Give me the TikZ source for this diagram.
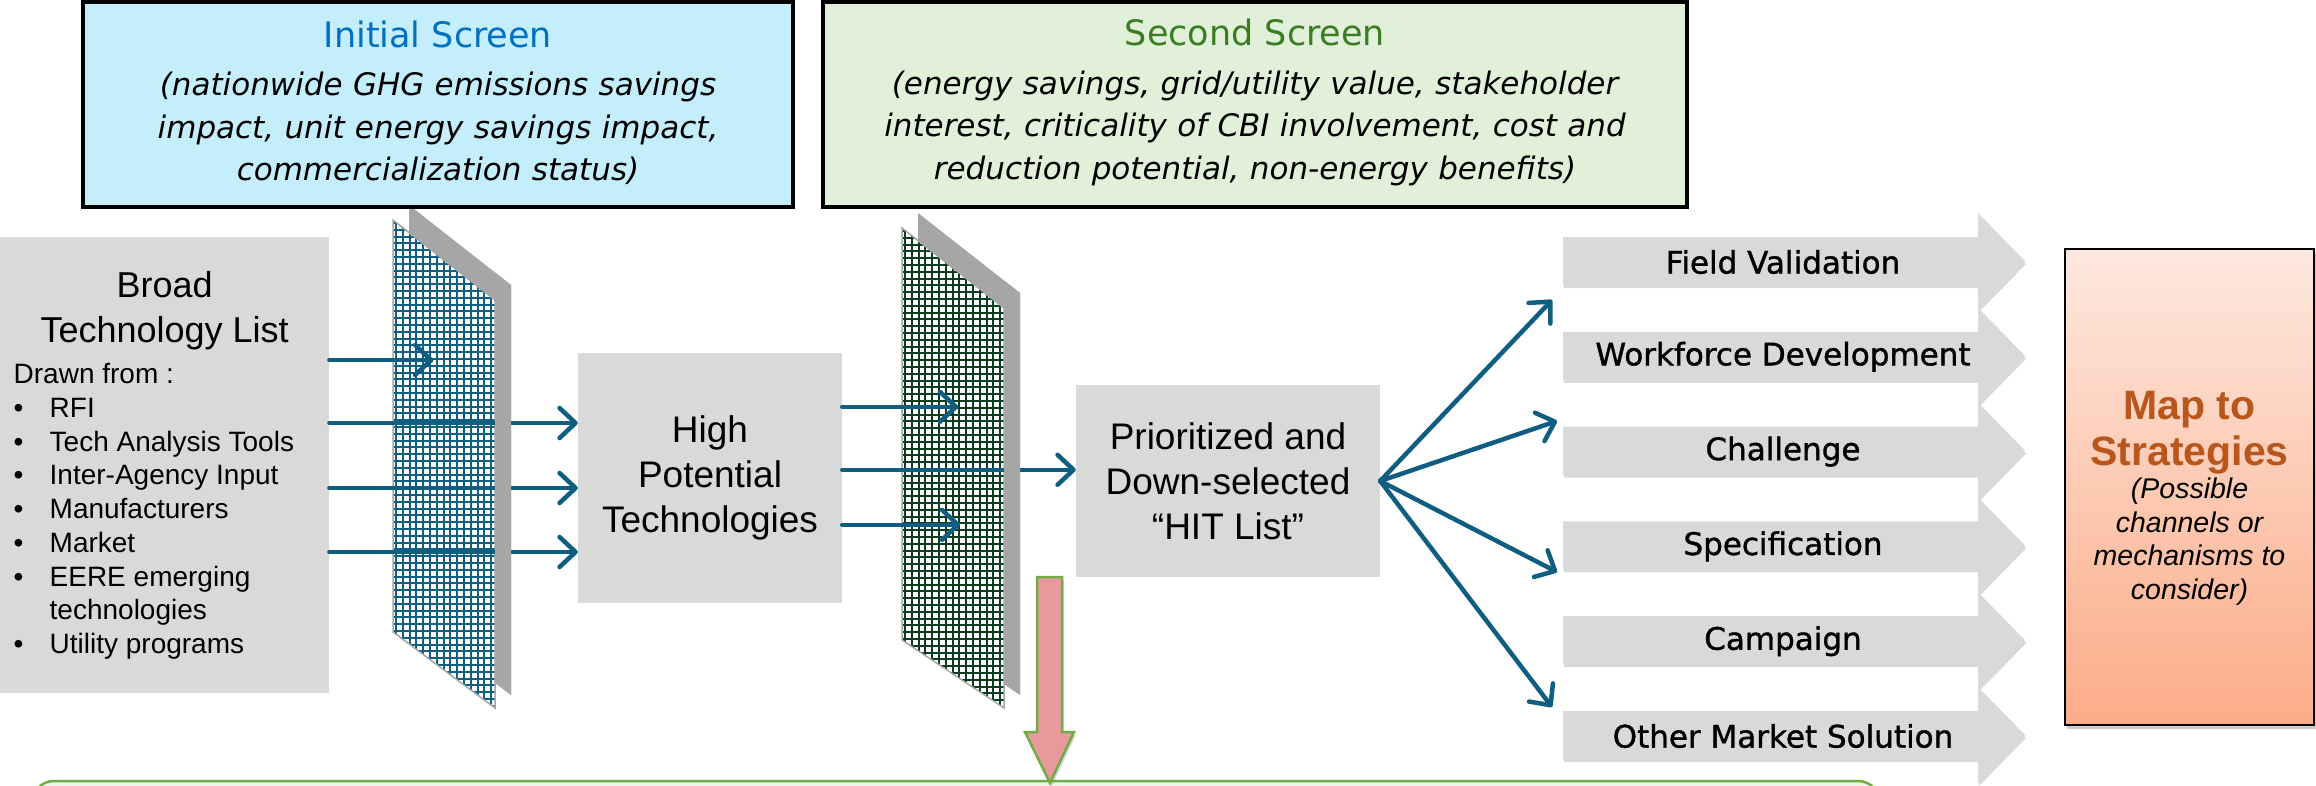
\documentclass[tikz,border=0pt]{standalone}
\usepackage{fontspec}
\setmainfont{Liberation Sans}
\newfontfamily\vera{DejaVu Sans}
\newfontfamily\veramid[FakeBold=1.2]{DejaVu Sans}
\usetikzlibrary{arrows.meta,positioning,shadows,calc}
\definecolor{flow}{HTML}{0F5E82}
\definecolor{meshblue}{HTML}{0E5F84}
\definecolor{meshgreen}{HTML}{0B3D1E}
\definecolor{panel}{HTML}{A6A6A6}
\definecolor{boxgray}{HTML}{D9D9D9}
\definecolor{firstfill}{HTML}{C4EEFC}
\definecolor{secondfill}{HTML}{E1F0D8}
\definecolor{firsttitle}{HTML}{0070C0}
\definecolor{secondtitle}{HTML}{3B7D23}
\definecolor{maptop}{HTML}{FDE8DF}
\definecolor{mapbot}{HTML}{FCAC88}
\definecolor{maptext}{HTML}{B8561B}
\definecolor{pinkfill}{HTML}{E8999B}
\definecolor{leaf}{HTML}{70AD47}
\definecolor{leafpale}{HTML}{EEF6E8}
\newcommand{\fsz}[2]{\fontsize{#1}{#2}\selectfont\spaceskip=\fontdimen2\font\relax}
\newcommand{\bul}{\makebox[36pt][l]{\textbullet}}

\begin{document}
\begin{tikzpicture}[x=1pt,y=-1pt,
screen/.style={draw=black,line width=4pt,minimum height=205pt,align=center,inner sep=0pt,
font=\vera\itshape\fsz{31}{42.5}},
gray box/.style={fill=boxgray,inner sep=0pt,align=center,font=\fsz{37}{45}},
arr/.style={draw=flow,line width=4.5pt,-{Straight Barb[length=16pt,width=30pt,round]},line cap=round},
chev/.style={fill=boxgray,drop shadow={shadow xshift=1pt,shadow yshift=-3pt,opacity=.3}},
chevtext/.style={font=\veramid\fsz{31}{38},inner sep=0pt}]
\useasboundingbox (0,0) rectangle (2316,785);

% bottom bar, cut by the page
\draw[leaf,fill=leafpale,line width=2.5pt,rounded corners=22pt] (32,781) rectangle (1880,880);

% the two screens
\foreach \mx/\my/\mc in {393/220/meshblue,902/228/meshgreen}{
  \fill[panel] (\mx+16,\my-15) -- (\mx+118,\my+65) -- (\mx+118,695) -- (\mx+16,\my+397) -- cycle;
  \begin{scope}
    \clip (\mx,\my) -- (\mx+102,\my+80) -- (\mx+102,708) -- (\mx,\my+412) -- cycle;
    \fill[white] (\mx,\my) rectangle (\mx+102,708);
    \foreach \k in {0,...,15} \draw[\mc,line width=2pt] (\mx+3+\k*6.8,\my) -- (\mx+3+\k*6.8,708);
    \foreach \k in {0,...,72} \draw[\mc,line width=2pt] (\mx,\my+3+\k*6.8) -- (\mx+102,\my+3+\k*6.8);
  \end{scope}
  \draw[panel,line width=1.5pt] (\mx,\my) -- (\mx+102,\my+80) -- (\mx+102,708) -- (\mx,\my+412) -- cycle;
}

\node[gray box,anchor=north west,minimum width=329pt,minimum height=456pt,text width=308pt,align=left] (broad) at (0,237)
{\parindent=0pt{\centering\fsz{36}{45}Broad\\Technology List\par}\vspace{8pt}
\leftskip=3pt\fsz{28}{33.7}Drawn from :\par
\bul RFI\par
\bul Tech Analysis Tools\par
\bul Inter-Agency Input\par
\bul Manufacturers\par
\bul Market\par
\bul EERE emerging\par
\hspace*{36pt}technologies\par
\bul Utility programs\par};
\node[gray box,minimum width=264pt,minimum height=250pt] (high) at (710,478) {High\\Potential\\Technologies};
\node[gray box,minimum width=304pt,minimum height=192pt] (hit) at (1228,481) {Prioritized and\\Down-selected\\“HIT List”};

\node[screen,fill=firstfill,minimum width=710pt,text width=700pt] (first) at (438,104.5)
{{\upshape\color{firsttitle}\fsz{35}{42.5}Initial Screen\par}\vspace{6pt}
(nationwide GHG emissions savings\\impact, unit energy savings impact,\\commercialization status)\vspace*{4pt}};
\node[screen,fill=secondfill,minimum width=864pt,text width=854pt] (second) at (1255,104.5)
{{\upshape\color{secondtitle}\fsz{35}{42.5}Second Screen\par}\vspace{6pt}
(energy savings, grid/utility value, stakeholder\\interest, criticality of CBI involvement, cost and\\reduction potential, non-energy benefits)\vspace*{4pt}};

% arrows through the screens
\path (broad.north east) ++(0,123) coordinate (b1) ++(0,63) coordinate (b2) ++(0,65) coordinate (b3) ++(0,64) coordinate (b4);
\path (high.north east) ++(0,54) coordinate (h1) ++(0,63) coordinate (h2) ++(0,55) coordinate (h3);
\draw[arr] (b1) -- ++(104,0);
\foreach \b in {b2,b3,b4} \draw[arr] (\b) -- (\b -| high.west);
\draw[arr] (h1) -- ++(116,0);
\draw[arr] (h2) -- (h2 -| hit.west);
\draw[arr] (h3) -- ++(118,0);
\foreach \mx/\my in {393/220,902/228}{
  \begin{scope}
    \clip (\mx+102,0) rectangle (\mx+130,785);
    \fill[panel] (\mx+16,\my-15) -- (\mx+118,\my+65) -- (\mx+118,695) -- (\mx+16,\my+397) -- cycle;
  \end{scope}
}

% channels
\foreach \nm/\yy/\txt in {fv/261/Field Validation,wd/355.8/Workforce Development,ch/450.6/Challenge,
sp/545.4/Specification,ca/640.2/Campaign,om/735/Other Market Solution}{
  \fill[chev] (1563,\yy-24) -- (1978,\yy-24) -- (1978,\yy-48) -- (2025,\yy) -- (1978,\yy+48) -- (1978,\yy+24) -- (1563,\yy+24) -- cycle;
  \coordinate (\nm-w) at (1563,\yy);
  \node[chevtext] (\nm) at (1783,\yy+1) {\txt};
}
\draw[arr] (hit.east) -- ($(fv-w)+(-11,39)$);
\draw[arr] (hit.east) -- ($(ch-w)+(-6,-29.6)$);
\draw[arr] (hit.east) -- ($(sp-w)+(-6,26.6)$);
\draw[arr] (hit.east) -- ($(om-w)+(-11,-28)$);

\node[draw=black,line width=2.5pt,top color=maptop,bottom color=mapbot,minimum width=249pt,minimum height=476pt,
text width=244pt,align=center,inner sep=0pt,drop shadow={shadow xshift=2pt,shadow yshift=-4pt,opacity=.4}] (map) at (2189.5,487)
{{\bfseries\color{maptext}\fsz{41}{46}\rule{0pt}{50pt}Map to\\Strategies\par}
{\itshape\fsz{28.5}{33.5}(Possible\\channels or\\mechanisms to\\consider)\par}};

% down arrow to the bottom bar
\filldraw[fill=pinkfill,draw=leaf,line width=2.5pt,drop shadow={shadow xshift=2pt,shadow yshift=-3pt,opacity=.3}]
(1037,577) -- (1062,577) -- (1062,732) -- (1074,732) -- (1050,783) -- (1025,732) -- (1037,732) -- cycle;
\end{tikzpicture}
\end{document}
